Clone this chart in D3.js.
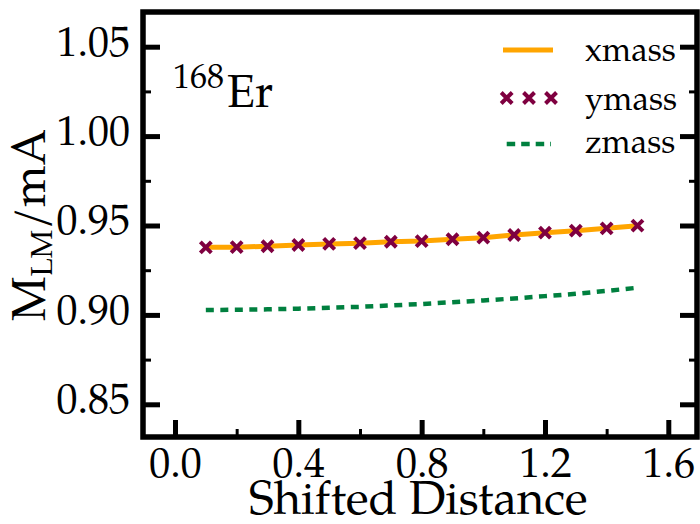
<!DOCTYPE html>
<html>
<head>
<meta charset="utf-8">
<script src="https://cdn.jsdelivr.net/npm/d3@7"></script>
<style>
  body { margin: 0; background: #fff; }
  svg { display: block; }
  text { font-family: "Palatino Linotype", Palatino, "TeX Gyre Pagella", "Liberation Serif", serif; fill: #000; }
</style>
</head>
<body>
<div class="chart"></div>
<script>
(function(){

//data
var distance = [0.1, 0.2, 0.3, 0.4, 0.5, 0.6, 0.7, 0.8, 0.9, 1.0, 1.1, 1.2, 1.3, 1.4, 1.5];
var xmass = [0.9378, 0.9379, 0.9384, 0.9391, 0.9397, 0.9401, 0.9409, 0.9413, 0.9423, 0.9432, 0.9447, 0.9460, 0.9471, 0.9484, 0.9499];
var ymass = [0.9378, 0.9379, 0.9384, 0.9391, 0.9397, 0.9401, 0.9409, 0.9413, 0.9423, 0.9432, 0.9447, 0.9460, 0.9471, 0.9484, 0.9499];
var zmass = [0.9027, 0.9029, 0.9031, 0.9035, 0.9040, 0.9045, 0.9053, 0.9061, 0.9071, 0.9081, 0.9092, 0.9105, 0.9118, 0.9134, 0.9152];

var xMajor = [0.0, 0.4, 0.8, 1.2, 1.6];
var xMinor = [0.2, 0.6, 1.0, 1.4];
var yMajor = [0.85, 0.90, 0.95, 1.00, 1.05];
var yMinor = [0.875, 0.925, 0.975, 1.025];

var legendNames = ["xmass", "ymass", "zmass"];

var width = 700,
    height = 524;

// frame edges (px)
var left = 143, right = 697, top = 12, bottom = 437;

var orange = "#ffa500",
    maroon = "#7f0040",
    green = "#00803f";

var svg = d3.select(".chart")
    .append("svg")
    .attr("width", width)
    .attr("height", height);

var x = d3.scaleLinear()
    .domain([0, 1.6])
    .range([175, 668.3]);

var y = d3.scaleLinear()
    .domain([0.85, 1.05])
    .range([404.3, 46.7]);

// ticks point inward, labels only left + bottom
function styleAxis(g, w){
    g.select(".domain").remove();
    g.selectAll(".tick line").attr("stroke", "#000").attr("stroke-width", w);
    g.selectAll(".tick text").style("font-size", "42px");
}

svg.append("g")
    .attr("transform", "translate(" + left + ",0)")
    .call(d3.axisLeft(y).tickValues(yMinor).tickSize(-8).tickFormat(""))
    .call(styleAxis, 3);
svg.append("g")
    .attr("transform", "translate(" + left + ",0)")
    .call(d3.axisLeft(y).tickValues(yMajor).tickSize(-17).tickPadding(13).tickFormat(d3.format(".2f")))
    .call(styleAxis, 5)
    .selectAll(".tick text").attr("dy", "0.2em");

svg.append("g")
    .attr("transform", "translate(" + right + ",0)")
    .call(d3.axisRight(y).tickValues(yMinor).tickSize(-8).tickFormat(""))
    .call(styleAxis, 3);
svg.append("g")
    .attr("transform", "translate(" + right + ",0)")
    .call(d3.axisRight(y).tickValues(yMajor).tickSize(-17).tickFormat(""))
    .call(styleAxis, 5);

svg.append("g")
    .attr("transform", "translate(0," + bottom + ")")
    .call(d3.axisBottom(x).tickValues(xMinor).tickSize(-8).tickFormat(""))
    .call(styleAxis, 3);
svg.append("g")
    .attr("transform", "translate(0," + bottom + ")")
    .call(d3.axisBottom(x).tickValues(xMajor).tickSize(-17).tickPadding(10).tickFormat(d3.format(".1f")))
    .call(styleAxis, 5);

// frame
svg.append("rect")
    .attr("x", left)
    .attr("y", top)
    .attr("width", right - left)
    .attr("height", bottom - top)
    .attr("fill", "none")
    .attr("stroke", "#000")
    .attr("stroke-width", 5.5);

var line = d3.line()
    .x(function(d){ return x(d[0]); })
    .y(function(d){ return y(d[1]); });

// zmass dashed
svg.append("path")
    .datum(d3.zip(distance, zmass))
    .attr("d", line)
    .attr("fill", "none")
    .attr("stroke", green)
    .attr("stroke-width", 4.5)
    .attr("stroke-dasharray", "8,6.5");

// xmass solid
svg.append("path")
    .datum(d3.zip(distance, xmass))
    .attr("d", line)
    .attr("fill", "none")
    .attr("stroke", orange)
    .attr("stroke-width", 5);

// ymass crosses
function cross(r){
    return "M" + (-r) + "," + (-r) + "L" + r + "," + r + "M" + (-r) + "," + r + "L" + r + "," + (-r);
}
svg.selectAll(".ymark")
    .data(d3.zip(distance, ymass))
    .enter()
    .append("path")
    .attr("class", "ymark")
    .attr("transform", function(d){ return "translate(" + x(d[0]) + "," + y(d[1]) + ")"; })
    .attr("d", cross(5.5))
    .attr("fill", "none")
    .attr("stroke", maroon)
    .attr("stroke-width", 4);

// legend
var lg = svg.append("g");
var rowY = [50, 98, 144];
var textY = [61, 110, 153];

lg.append("line")
    .attr("x1", 503).attr("x2", 553)
    .attr("y1", rowY[0]).attr("y2", rowY[0])
    .attr("stroke", orange)
    .attr("stroke-width", 5);

lg.selectAll(".lmark")
    .data([506.7, 529, 551])
    .enter()
    .append("path")
    .attr("class", "lmark")
    .attr("transform", function(d){ return "translate(" + d + "," + rowY[1] + ")"; })
    .attr("d", cross(5.5))
    .attr("fill", "none")
    .attr("stroke", maroon)
    .attr("stroke-width", 4);

lg.append("line")
    .attr("x1", 506.7).attr("x2", 551)
    .attr("y1", rowY[2]).attr("y2", rowY[2])
    .attr("stroke", green)
    .attr("stroke-width", 4.5)
    .attr("stroke-dasharray", "8.5,6");

lg.selectAll(".ltext")
    .data(legendNames)
    .enter()
    .append("text")
    .attr("class", "ltext")
    .attr("x", 585)
    .attr("y", function(d, i){ return textY[i]; })
    .style("font-size", "33px")
    .text(function(d){ return d; });

// nucleus label
var nuc = svg.append("text")
    .attr("x", 173)
    .attr("y", 107);
nuc.append("tspan")
    .attr("dy", -19)
    .style("font-size", "34px")
    .text("168");
nuc.append("tspan")
    .attr("dy", 19)
    .attr("dx", 3)
    .style("font-size", "46px")
    .text("Er");

// axis titles
svg.append("text")
    .attr("x", (246.7 + 590) / 2)
    .attr("y", 514)
    .attr("text-anchor", "middle")
    .style("font-size", "47px")
    .text("Shifted Distance");

var yl = svg.append("text")
    .attr("transform", "translate(45,225) rotate(-90)")
    .attr("text-anchor", "middle")
    .style("font-size", "47px");
yl.append("tspan").text("M");
yl.append("tspan")
    .attr("dy", 7)
    .style("font-size", "30px")
    .text("LM");
yl.append("tspan")
    .attr("dy", -7)
    .text("/mA");

})();
</script>
</body>
</html>
